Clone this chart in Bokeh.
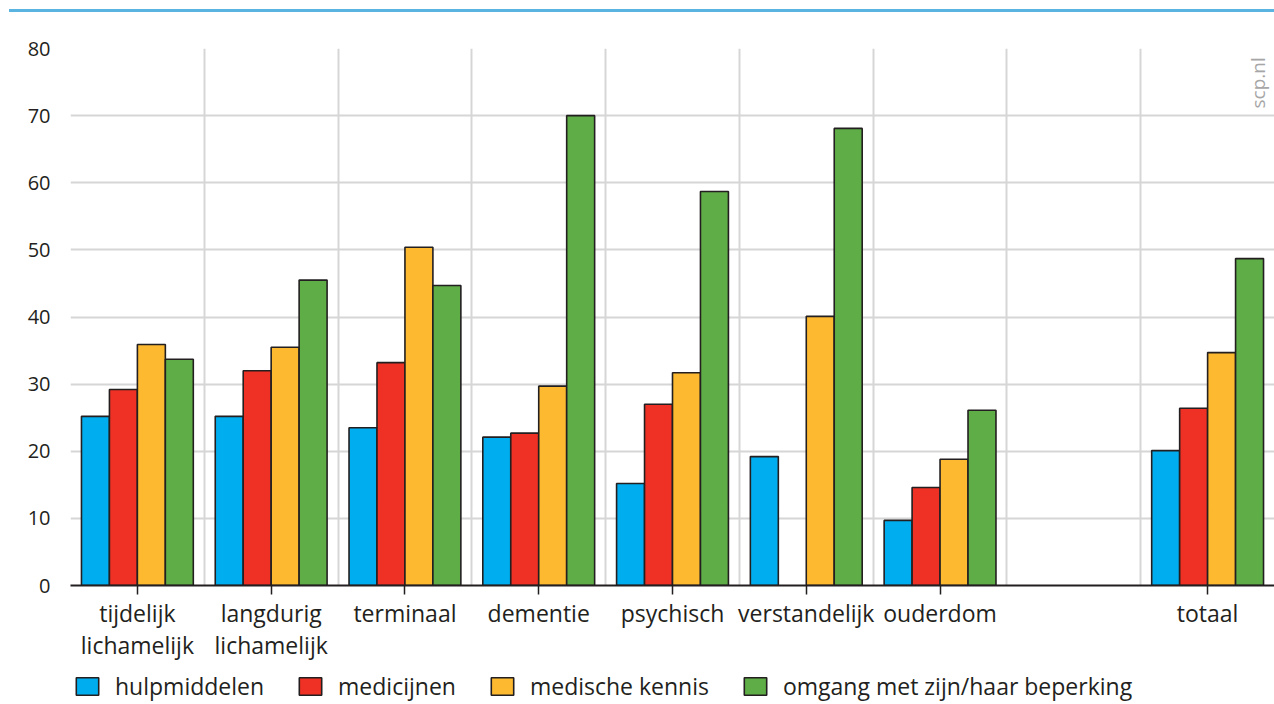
import math
from bokeh.plotting import figure
from bokeh.models import ColumnDataSource, FixedTicker, Legend, LegendItem, Label, Div, Range1d
from bokeh.layouts import column
from bokeh.transform import dodge
from bokeh.embed import file_html
from bokeh.resources import INLINE

categories = ["tijdelijk\nlichamelijk", "langdurig\nlichamelijk", "terminaal", "dementie",
              "psychisch", "verstandelijk", "ouderdom", "totaal"]
cat_pos = [0.5, 1.5, 2.5, 3.5, 4.5, 5.5, 6.5, 8.5]
series = ["hulpmiddelen", "medicijnen", "medische kennis", "omgang met zijn/haar beperking"]
hulpmiddelen = [25.2, 25.2, 23.5, 22.1, 15.2, 19.2, 9.7, 20.1]
medicijnen = [29.2, 32.0, 33.2, 22.7, 27.0, float("nan"), 14.6, 26.4]
medische_kennis = [35.9, 35.5, 50.4, 29.7, 31.7, 40.1, 18.8, 34.7]
omgang = [33.7, 45.5, 44.7, 70.0, 58.7, 68.1, 26.1, 48.7]
colors = ["#00aeef", "#ee3124", "#fdb930", "#5fad46"]
y_ticks = [0, 10, 20, 30, 40, 50, 60, 70, 80]

FONT = "Open Sans"
TXT = "#231f20"

src = ColumnDataSource(dict(x=cat_pos, s0=hulpmiddelen, s1=medicijnen, s2=medische_kennis, s3=omgang))

p = figure(frame_width=1204, frame_height=537, output_backend="svg", toolbar_location=None,
           x_range=Range1d(0, 9), y_range=Range1d(0, 80),
           min_border_left=70, min_border_right=0, min_border_top=36, min_border_bottom=84)
p.outline_line_color = None
p.background_fill_color = "white"

bw = 0.209
offs = [-1.5 * bw, -0.5 * bw, 0.5 * bw, 1.5 * bw]
for i, (f, c) in enumerate(zip(["s0", "s1", "s2", "s3"], colors)):
    p.vbar(x=dodge("x", offs[i]), top=f, width=bw, bottom=0, source=src,
           fill_color=c, line_color=TXT, line_width=1.6)

# axes
p.xaxis.ticker = FixedTicker(ticks=cat_pos)
p.xaxis.major_label_overrides = {pos: lab for pos, lab in zip(cat_pos, categories)}
p.xaxis.major_tick_in = 0
p.xaxis.major_tick_out = 9
p.xaxis.major_tick_line_color = TXT
p.xaxis.major_tick_line_width = 1.5
p.xaxis.minor_tick_line_color = None
p.xaxis.axis_line_color = TXT
p.xaxis.axis_line_width = 1.8
p.xaxis.major_label_text_font = FONT
p.xaxis.major_label_text_font_size = "23px"
p.xaxis.major_label_text_color = TXT
p.xaxis.major_label_text_line_height = 1.02
p.xaxis.major_label_standoff = 2

p.yaxis.ticker = FixedTicker(ticks=y_ticks)
p.yaxis.axis_line_color = None
p.yaxis.major_tick_line_color = None
p.yaxis.minor_tick_line_color = None
p.yaxis.major_label_text_font = FONT
p.yaxis.major_label_text_font_size = "20px"
p.yaxis.major_label_text_color = TXT
p.yaxis.major_label_standoff = 14

p.xgrid.ticker = FixedTicker(ticks=list(range(0, 10)))
p.xgrid.grid_line_color = "#d6d6d6"
p.xgrid.grid_line_width = 2
p.ygrid.ticker = FixedTicker(ticks=y_ticks)
p.ygrid.grid_line_color = "#d6d6d6"
p.ygrid.grid_line_width = 2

p.add_layout(Label(x=8.875, y=78.7, text="scp.nl", angle=math.pi / 2, text_align="right",
                   text_baseline="middle", text_font=FONT, text_font_size="19px",
                   text_color="#a6a6a6"))

# legend strip
lg = figure(frame_width=1274, frame_height=34, output_backend="svg", toolbar_location=None,
            x_axis_type=None, y_axis_type=None, x_range=Range1d(0, 1), y_range=Range1d(0, 1),
            min_border_left=0, min_border_right=0, min_border_top=0, min_border_bottom=0)
lg.outline_line_color = None
lg.xgrid.visible = False
lg.ygrid.visible = False
dummies = []
for c in colors:
    dummies.append(lg.vbar(x=[5], top=[0], bottom=[0], width=0.1,
                           fill_color=c, line_color=TXT, line_width=1.6))
legend = Legend(items=[LegendItem(label=s, renderers=[r]) for s, r in zip(series, dummies)],
                orientation="horizontal", location=(73, 1),
                glyph_width=28, glyph_height=22, label_text_font=FONT,
                label_text_font_size="23px", label_text_color=TXT,
                spacing=32, label_standoff=14, padding=0, margin=0,
                border_line_color=None, background_fill_alpha=0)
lg.add_layout(legend, "center")

top = Div(text='<div style="height:9px"></div><div style="height:3px;width:1265px;margin-left:9px;background:#5ab4e1"></div>',
          width=1274, height=12, styles={"margin": "0", "padding": "0"})
layout = column(top, p, lg, spacing=0)

open("out.html", "w").write(file_html(layout, INLINE))
